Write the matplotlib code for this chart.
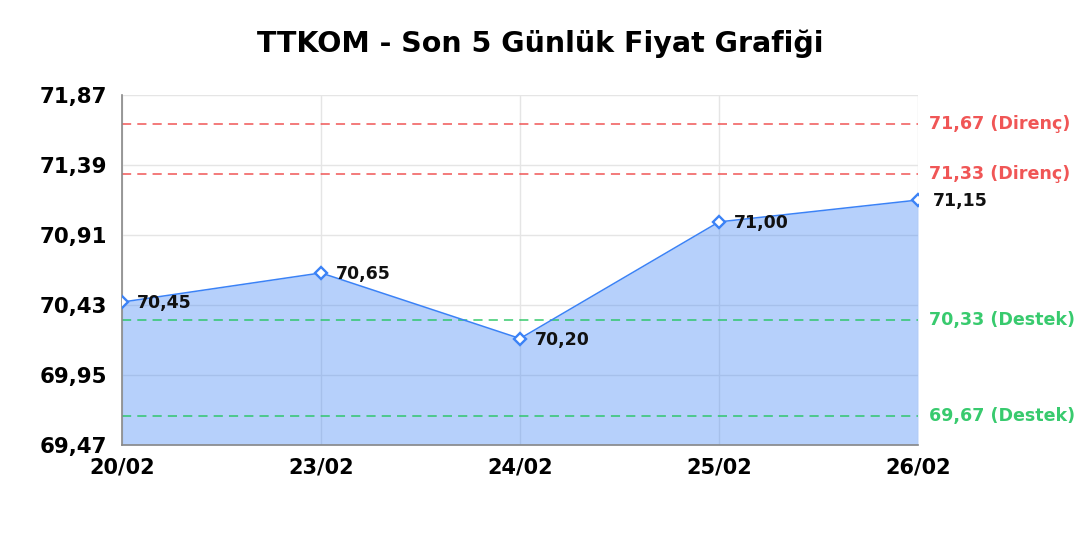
import matplotlib
matplotlib.use("Agg")
import matplotlib.pyplot as plt

dates = ["20/02", "23/02", "24/02", "25/02", "26/02"]
prices = [70.45, 70.65, 70.20, 71.00, 71.15]
y_ticks = [69.47, 69.95, 70.43, 70.91, 71.39, 71.87]
resistance = [71.67, 71.33]
support = [70.33, 69.67]
title = "TTKOM - Son 5 Günlük Fiyat Grafiği"

plt.rcParams['font.family'] = ['DejaVu Sans']

fig = plt.figure(figsize=(10.8, 5.4), dpi=100)
ax = fig.add_axes([0.113, 0.176, 0.737, 0.648])

x = list(range(len(dates)))
blue = "#3b82f6"
red = "#ef4444"
green = "#22c55e"

ax.fill_between(x, prices, y_ticks[0], color=blue, alpha=0.37, linewidth=0, zorder=1)
ax.plot(x, prices, color=blue, linewidth=1.1, zorder=3,
        marker="D", markersize=6, markerfacecolor="white", markeredgecolor=blue, markeredgewidth=1.7)

for xi, p in zip(x, prices):
    ax.annotate(f"{p:.2f}".replace(".", ","), (xi, p), xytext=(11, -1), textcoords="offset points",
                ha="left", va="center", fontsize=12.5, fontweight="bold", color="#111111", zorder=4)

for r in resistance:
    ax.axhline(r, color=red, linestyle=(0, (6, 4)), linewidth=1.1, alpha=0.9, zorder=2)
    ax.annotate(f"{r:.2f}".replace(".", ",") + " (Direnç)", (1, r), xycoords=("axes fraction", "data"),
                xytext=(8, 0), textcoords="offset points", ha="left", va="center",
                fontsize=12.6, fontweight="bold", color=red, alpha=0.9)
for s in support:
    ax.axhline(s, color=green, linestyle=(0, (6, 4)), linewidth=1.1, alpha=0.9, zorder=2)
    ax.annotate(f"{s:.2f}".replace(".", ",") + " (Destek)", (1, s), xycoords=("axes fraction", "data"),
                xytext=(8, 0), textcoords="offset points", ha="left", va="center",
                fontsize=12.6, fontweight="bold", color=green, alpha=0.9)

ax.set_xlim(0, len(dates) - 1)
ax.set_ylim(y_ticks[0], y_ticks[-1])
ax.set_xticks(x)
ax.set_xticklabels(dates, fontsize=15, fontweight="bold")
ax.set_yticks(y_ticks)
ax.set_yticklabels([f"{t:.2f}".replace(".", ",") for t in y_ticks], fontsize=15.4, fontweight="bold")
ax.tick_params(axis="y", length=0, pad=11)
ax.tick_params(axis="x", length=0, pad=9)
ax.grid(True, color="#e5e5e5", linewidth=1, zorder=0)
ax.set_axisbelow(True)
for side in ["top", "right"]:
    ax.spines[side].set_visible(False)
for side in ["left", "bottom"]:
    ax.spines[side].set_color("#888888")
    ax.spines[side].set_linewidth(1.2)

fig.suptitle(title, fontsize=20.5, fontweight="bold", y=0.945)

fig.savefig("out.png", dpi=100)
